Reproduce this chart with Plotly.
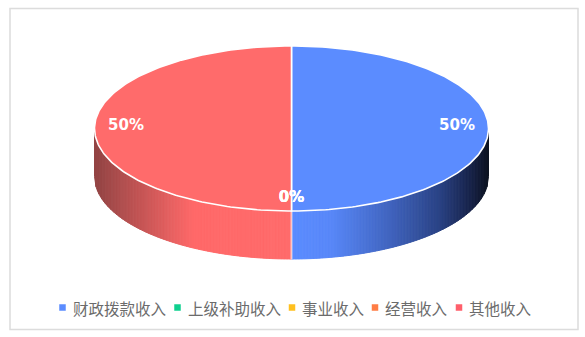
import numpy as np
import plotly.graph_objects as go

categories = ["财政拨款收入", "上级补助收入", "事业收入", "经营收入", "其他收入"]
values = [50, 0, 0, 0, 50]
top_colors = ["#5b8cff", "#0fd08f", "#ffc01f", "#ff7d45", "#ff6b6b"]
legend_colors = ["#5b8cff", "#0fd08f", "#ffc01f", "#ff7d45", "#ff5f6b"]
legend_square_x = [62.5, 177.5, 292, 375, 459]
legend_text_x = [73, 188, 302, 385, 469]

CX, CY, RX, RY, DEPTH = 291.5, 128.5, 197, 82.5, 48
LEGEND_Y = 307.5

# horizontal shading of the wall: (fraction of half width from centre, colour)
shade = {
    0: ([0, 0.2, 0.5, 0.75, 0.9, 1.0],
        [(91, 140, 255), (88, 135, 248), (64, 100, 190), (42, 66, 132), (24, 36, 76), (12, 18, 30)]),
    4: ([0, 0.5, 1.0], [(255, 107, 107), (255, 105, 105), (146, 68, 68)]),
}


def point(deg, scale=1.0):
    a = np.radians(deg)
    return CX + RX * scale * np.sin(a), CY - RY * scale * np.cos(a)


total = sum(values)
fracs = [v / total for v in values]
starts = np.cumsum([0] + fracs[:-1]) * 360
ends = starts + np.array(fracs) * 360

fig = go.Figure()

# walls
for i, (s, e) in enumerate(zip(starts, ends)):
    if e - s == 0:
        continue
    lo, hi = max(s, 90), min(e, 270)
    x_lo, _ = point(lo)
    x_hi, _ = point(hi)
    x_edges = np.linspace(x_lo, x_hi, 131)
    xs_stop, rgb_stop = shade[i]
    rgb_stop = np.array(rgb_stop, dtype=float)
    for x0, x1 in zip(x_edges[:-1], x_edges[1:]):
        y0 = CY + RY * np.sqrt(max(0, 1 - ((x0 - CX) / RX) ** 2))
        y1 = CY + RY * np.sqrt(max(0, 1 - ((x1 - CX) / RX) ** 2))
        f = abs((x0 + x1) / 2 - CX) / RX
        c = [np.interp(f, xs_stop, rgb_stop[:, k]) for k in range(3)]
        col = f"rgb({c[0]:.0f},{c[1]:.0f},{c[2]:.0f})"
        fig.add_trace(go.Scatter(
            x=[x0, x1, x1, x0, x0], y=[y0, y1, y1 + DEPTH, y0 + DEPTH, y0],
            mode="lines", fill="toself", fillcolor=col, line=dict(color=col, width=1),
            hoverinfo="skip", showlegend=False))

# seam on the wall
sx, sy = point(180)
fig.add_trace(go.Scatter(x=[sx, sx], y=[sy, sy + DEPTH], mode="lines",
                         line=dict(color="rgba(255,255,255,0.6)", width=2),
                         hoverinfo="skip", showlegend=False))

# top faces
for i, (s, e) in enumerate(zip(starts, ends)):
    if e - s == 0:
        continue
    a = np.linspace(s, e, 181)
    px, py = point(a)
    fig.add_trace(go.Scatter(
        x=np.r_[CX, px, CX], y=np.r_[CY, py, CY],
        mode="lines", fill="toself", fillcolor=top_colors[i],
        line=dict(color="#ffffff", width=1.6),
        name=categories[i], hoverinfo="skip", showlegend=False))

# labels: placed around the mid angle of each slice
for i, (s, e) in enumerate(zip(starts, ends)):
    mid = np.radians((s + e) / 2)
    lx = CX + 0.84 * RX * np.sin(mid)
    ly = CY - 2.5 - 0.873 * RY * np.cos(mid)
    fig.add_trace(go.Scatter(
        x=[lx], y=[ly], mode="text", text=[f"{values[i] / total:.0%}"],
        textposition="middle center",
        textfont=dict(family="DejaVu Sans", size=15, color="#ffffff", weight="bold"),
        hoverinfo="skip", showlegend=False))

# legend row
for i, name in enumerate(categories):
    fig.add_trace(go.Scatter(
        x=[legend_square_x[i]], y=[LEGEND_Y], mode="markers", name=name,
        marker=dict(symbol="square", size=6.5, color=legend_colors[i]),
        hoverinfo="skip", showlegend=False))
    fig.add_annotation(
        x=legend_text_x[i], y=LEGEND_Y, text=name, showarrow=False,
        xanchor="left", yanchor="middle", xshift=-2,
        font=dict(family="Noto Sans CJK SC", size=15.5, color="#6b6b6b"))

fig.add_shape(type="rect", x0=10, y0=8.5, x1=578, y1=329.5,
              line=dict(color="#dcdcdc", width=1.5), fillcolor="rgba(0,0,0,0)", layer="below")

fig.update_layout(
    width=585, height=337, autosize=False,
    margin=dict(l=0, r=0, t=0, b=0),
    paper_bgcolor="#ffffff", plot_bgcolor="#ffffff",
    showlegend=False,
    xaxis=dict(range=[0, 585], visible=False, fixedrange=True),
    yaxis=dict(range=[337, 0], visible=False, fixedrange=True),
)

fig.write_html("out.html", config={"displayModeBar": False},
               post_script="document.body.style.margin='0';document.body.style.overflow='hidden';")
